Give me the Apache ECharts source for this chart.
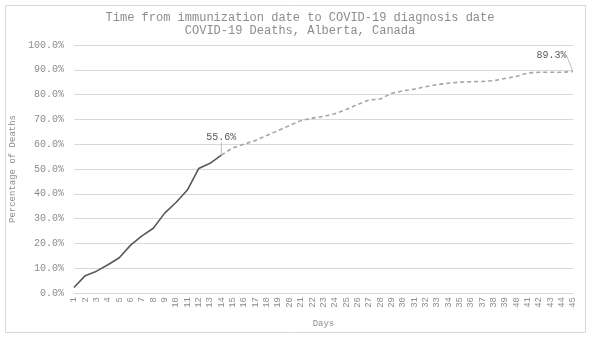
<!DOCTYPE html>
<html><head><meta charset="utf-8">
<script src="https://cdn.jsdelivr.net/npm/echarts@6/dist/echarts.min.js"></script>
<style>html,body{margin:0;padding:0;background:#fff}#c{width:600px;height:345px}</style>
</head><body><div id="c"></div>
<script>
const days = ['1','2','3','4','5','6','7','8','9','10','11','12','13','14','15','16','17','18','19','20','21','22','23','24','25','26','27','28','29','30','31','32','33','34','35','36','37','38','39','40','41','42','43','44','45'];
const firstPart = [2.2,7.0,8.8,11.4,14.2,19.3,23.0,26.1,32.2,36.5,41.5,50.2,52.3,55.6];
const secondPart = [55.6,58.5,60.0,61.5,63.5,65.5,67.5,69.5,70.5,71.2,72.3,74.0,76.0,77.8,78.2,80.5,81.5,82.2,83.2,84.0,84.6,85.0,85.2,85.3,85.6,86.5,87.3,88.7,89.0,89.0,89.0,89.3];
const titleLines = ['Time from immunization date to COVID-19 diagnosis date','COVID-19 Deaths, Alberta, Canada'];

const mono = 'Liberation Mono';
const solidData = days.map((d,i)=> i < firstPart.length ? firstPart[i] : '-');
const offset = days.length - secondPart.length;
const dashedData = days.map((d,i)=> i >= offset ? secondPart[i-offset] : '-');

const solidSeriesData = solidData.map((v,i)=> i === firstPart.length-1 ? {
  value: v,
  label: {show:true, formatter: v.toFixed(1)+'%', position:'top', distance: 3}
} : v);
const dashedSeriesData = dashedData.map((v,i)=> i === days.length-1 ? {
  value: v,
  label: {show:true, formatter: v.toFixed(1)+'%', position:'left', distance: 6}
} : v);

const chart = echarts.init(document.getElementById('c'), null, {renderer:'canvas'});
chart.setOption({
  animation:false,
  backgroundColor:'#fff',
  title:{
    text: titleLines.join('\n'), left:'center', top:6,
    textStyle:{fontFamily:mono, fontSize:12, fontWeight:'normal', color:'#8c8c8c', lineHeight:13}
  },
  graphic:[{type:'rect', shape:{x:5.5,y:5.5,width:580,height:327}, style:{fill:'none', stroke:'#d9d9d9', lineWidth:1}, z:-1}],
  grid:{left:73, right:27, top:45, bottom:52},
  xAxis:{
    type:'category', data:days, boundaryGap:false,
    name:'Days', nameLocation:'middle', nameGap:26,
    nameTextStyle:{fontFamily:mono, fontSize:9, color:'#8c8c8c'},
    axisLine:{show:true, lineStyle:{color:'#d9d9d9'}},
    axisTick:{show:false},
    axisLabel:{rotate:90, interval:0, fontFamily:mono, fontSize:9, color:'#8c8c8c', margin:4}
  },
  yAxis:{
    type:'value', min:0, max:100, interval:10,
    name:'Percentage of Deaths', nameLocation:'middle', nameGap:52,
    nameTextStyle:{fontFamily:mono, fontSize:9, color:'#8c8c8c'},
    axisLine:{show:false}, axisTick:{show:false},
    splitLine:{lineStyle:{color:'#d9d9d9'}},
    axisLabel:{formatter:v=>v.toFixed(1)+'%', fontFamily:mono, fontSize:10, color:'#8c8c8c', margin:10}
  },
  series:[
    {type:'line', data:solidSeriesData, symbol:'circle', symbolSize:1, showSymbol:true,
     itemStyle:{color:'rgba(0,0,0,0)', borderWidth:0},
     lineStyle:{color:'#595959', width:1.6},
     label:{fontFamily:mono, fontSize:10, color:'#595959'},
     labelLayout:{dy:-9},
     labelLine:{show:true, lineStyle:{color:'#bfbfbf', width:1}},
     z:3},
    {type:'line', data:dashedSeriesData, symbol:'circle', symbolSize:1, showSymbol:true,
     itemStyle:{color:'rgba(0,0,0,0)', borderWidth:0},
     lineStyle:{color:'#a6a6a6', width:1.6, type:[4,3]},
     label:{fontFamily:mono, fontSize:10, color:'#595959'},
     labelLayout:{dy:-16, dx:0},
     labelLine:{show:true, lineStyle:{color:'#bfbfbf', width:1}},
     z:2}
  ]
});
</script></body></html>
